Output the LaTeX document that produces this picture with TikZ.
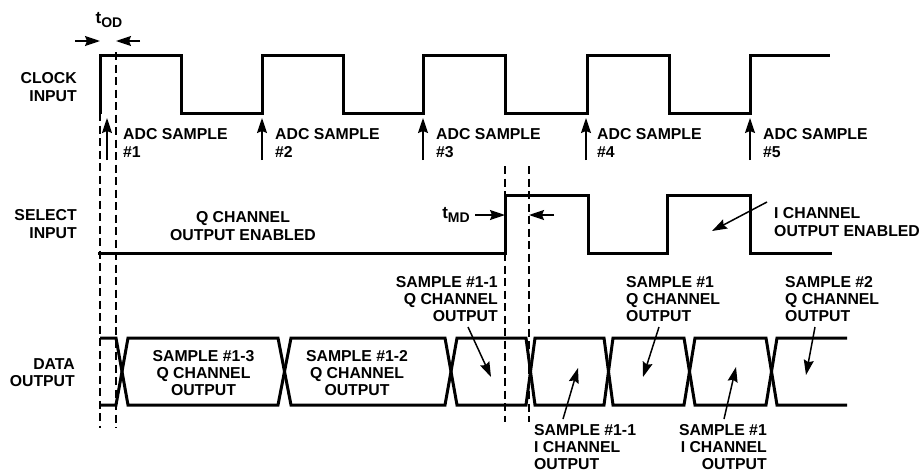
\documentclass[tikz,border=0pt]{standalone}
\usepackage{fontspec}
\setmainfont{Liberation Sans}
\usetikzlibrary{arrows.meta}
\tikzset{
  x=1pt,y=-1pt,
  wave/.style={line width=3pt,line join=miter,line cap=butt},
  guide/.style={line width=1.4pt,dash pattern=on 8pt off 4.5pt},
  lead/.style={line width=1.5pt,-{Stealth[length=15pt,width=10pt,inset=2pt]}},
  lab/.style={inner sep=0pt,font=\fontsize{15.8}{17.2}\selectfont\bfseries},
  labr/.style={lab,anchor=east,align=right},
  labl/.style={lab,anchor=west,align=left},
  labc/.style={lab,anchor=center,align=center},
}
\newcommand{\tsub}[1]{{\fontsize{17}{17}\selectfont t}\raisebox{-4pt}{\fontsize{14}{15}\selectfont\bfseries #1}}
\begin{document}
\begin{tikzpicture}
\useasboundingbox (0,0) rectangle (921,472);
% guides
\draw[guide] (100,113) -- (100,428);
\draw[guide] (116,52) -- (116,428);
\draw[guide] (505,166) -- (505,195);
\draw[guide] (505,253) -- (505,422);
\draw[guide] (529,166) -- (529,422);
% clock
\draw[wave] (100,114) -- (100,55) -- (181,55) -- (181,113) -- (262,113) -- (262,55) -- (343,55) -- (343,113) -- (423,113) -- (423,55) -- (505,55) -- (505,113) -- (587,113) -- (587,55) -- (669,55) -- (669,113) -- (750,113) -- (750,55) -- (830,55);
% select
\draw[wave] (98,253) -- (505,253) -- (505,195) -- (588,195) -- (588,253) -- (667,253) -- (667,195) -- (750,195) -- (750,253) -- (832,253);
% data
\draw[wave] (100,338) -- (116,338) -- (128,405) -- (278,405) -- (291,338) -- (445,338) -- (457,405) -- (526,405) -- (535,338) -- (604,338) -- (613,405) -- (684,405) -- (695,338) -- (766,338) -- (777,405) -- (847,405);
\draw[wave] (100,405) -- (116,405) -- (128,338) -- (278,338) -- (291,405) -- (445,405) -- (457,338) -- (526,338) -- (535,405) -- (604,405) -- (613,338) -- (684,338) -- (695,405) -- (766,405) -- (777,338) -- (847,338);
% named arrow ends
\coordinate (od1) at (75,41); \coordinate (od1e) at (100,41);
\coordinate (od2) at (140,41); \coordinate (od2e) at (116,41);
\coordinate (md1) at (475,215); \coordinate (md1e) at (505,215);
\coordinate (md2) at (554,215); \coordinate (md2e) at (529,215);
\foreach \n/\x in {a/107,b/262,c/423,d/586,e/750}{
  \coordinate (s\n) at (\x,160); \coordinate (t\n) at (\x,118);
  \draw[lead] (s\n) -- (t\n);
}
\draw[lead] (od1) -- (od1e);
\draw[lead] (od2) -- (od2e);
\draw[lead] (md1) -- (md1e);
\draw[lead] (md2) -- (md2e);
\coordinate (q1) at (468,327); \coordinate (q1e) at (491,377);
\coordinate (i1) at (563,419); \coordinate (i1e) at (578,368);
\coordinate (q2) at (659,327); \coordinate (q2e) at (643,377);
\coordinate (i2) at (724,419); \coordinate (i2e) at (736,367);
\coordinate (q3) at (815,327); \coordinate (q3e) at (806,375);
\coordinate (ie) at (767,202); \coordinate (iee) at (712,231);
\draw[lead] (q1) -- (q1e);
\draw[lead] (i1) -- (i1e);
\draw[lead] (q2) -- (q2e);
\draw[lead] (i2) -- (i2e);
\draw[lead] (q3) -- (q3e);
\draw[lead] (ie) -- (iee);
% labels
\node[lab] (tod) at (109,20) {\tsub{OD}};
\node[lab] (tmd) at (456,215) {\tsub{MD}};
\node[labr] (clk) at (77,87) {CLOCK\\INPUT};
\node[labr] (sel) at (77,224) {SELECT\\INPUT};
\node[labr] (dat) at (75,373) {DATA\\OUTPUT};
\node[labl] (as1) at (123,143) {ADC SAMPLE\\\#1};
\node[labl] (as2) at (275,143) {ADC SAMPLE\\\#2};
\node[labl] (as3) at (436,143) {ADC SAMPLE\\\#3};
\node[labl] (as4) at (597,143) {ADC SAMPLE\\\#4};
\node[labl] (as5) at (763,143) {ADC SAMPLE\\\#5};
\node[labc] (qen) at (243,226) {Q CHANNEL\\OUTPUT ENABLED};
\node[labl] (ien) at (774,222) {I CHANNEL\\OUTPUT ENABLED};
\node[labc] (s13) at (203.5,373) {SAMPLE \#1-3\\Q CHANNEL\\OUTPUT};
\node[labc] (s12) at (357,373) {SAMPLE \#1-2\\Q CHANNEL\\OUTPUT};
\node[labr] (s11q) at (498,299) {SAMPLE \#1-1\\Q CHANNEL\\OUTPUT};
\node[labl] (s1q) at (626,299) {SAMPLE \#1\\Q CHANNEL\\OUTPUT};
\node[labl] (s2q) at (785,299) {SAMPLE \#2\\Q CHANNEL\\OUTPUT};
\node[labl] (s11i) at (534,447) {SAMPLE \#1-1\\I CHANNEL\\OUTPUT};
\node[labr] (s1i) at (767,447) {SAMPLE \#1\\I CHANNEL\\OUTPUT};
\end{tikzpicture}
\end{document}
